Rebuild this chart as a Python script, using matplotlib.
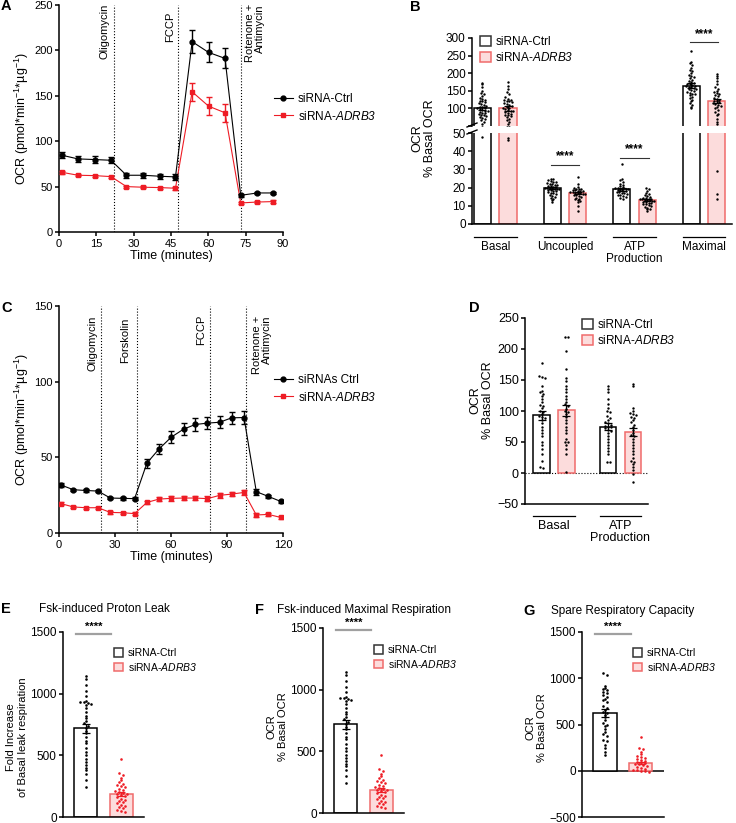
import numpy as np
import matplotlib
matplotlib.use('Agg')
import matplotlib.pyplot as plt
from matplotlib.patches import Patch
from matplotlib.lines import Line2D

plt.rcParams['font.family'] = ['Liberation Sans', 'DejaVu Sans']
plt.rcParams['mathtext.fontset'] = 'custom'
plt.rcParams['mathtext.sf'] = 'Liberation Sans:italic'
plt.rcParams['mathtext.it'] = 'Liberation Sans:italic'
plt.rcParams['mathtext.rm'] = 'Liberation Sans'
plt.rcParams['font.size'] = 8
plt.rcParams['axes.linewidth'] = 1.1
plt.rcParams['xtick.major.width'] = 1.1
plt.rcParams['ytick.major.width'] = 1.1
plt.rcParams['xtick.major.size'] = 3
plt.rcParams['ytick.major.size'] = 3
plt.rcParams['xtick.major.pad'] = 2
plt.rcParams['ytick.major.pad'] = 1.5

RED = '#ee1c25'
PINK = '#fcdcdc'
PINK_EDGE = '#f06b6b'
CTRL = 'siRNA-Ctrl'
ADRB3 = 'siRNA-$\\mathsf{ADRB3}$'

# ---- panel A: OCR time course ----
tA = [1.1, 7.6, 14.3, 20.9, 27.1, 33.8, 40.5, 46.8, 53.5, 60.1, 66.7, 73.0, 79.7, 86.0]
ctrlA = [84.6, 80.5, 79.8, 79.0, 62.5, 62.5, 61.4, 60.7, 209.6, 197.8, 191.2, 40.4, 43.0, 43.0]
ctrlA_err = [3.5, 3.5, 3.5, 3.5, 2.5, 2.5, 2.5, 3, 13, 11, 11, 1.5, 1.5, 1.5]
adrA = [65.8, 62.5, 62.1, 61.0, 50.0, 49.3, 48.9, 48.2, 154.4, 138.6, 131.3, 32.0, 33.0, 33.5]
adrA_err = [1.5, 1.2, 1.2, 1.2, 1.2, 1.2, 1.2, 1.5, 10, 10, 10, 1.5, 1.2, 1.2]
injA = [22.1, 47.9, 73.0]

# ---- panel C: OCR time course with forskolin ----
tC = [1.1, 7.7, 14.3, 20.9, 27.5, 34.1, 40.5, 47.1, 53.5, 60.1, 66.7, 73.0, 79.5,
      86.1, 92.5, 99.1, 105.7, 112.1, 118.7]
ctrlC = [31.7, 28.6, 28.1, 27.7, 23.1, 22.9, 22.7, 46.2, 55.4, 63.3, 68.6, 71.7, 72.6,
         73.2, 76.1, 76.3, 27.3, 24.2, 20.9]
ctrlC_err = [1.2, 0.8, 0.8, 0.8, 0.8, 0.8, 0.8, 3, 3.5, 4, 4, 4, 4, 4, 4, 4, 2, 1, 1]
adrC = [19.4, 17.2, 16.7, 16.7, 13.6, 13.4, 12.8, 20.2, 22.4, 22.9, 23.1, 23.1, 22.7,
        24.9, 25.7, 26.8, 11.9, 12.3, 10.3]
adrC_err = [1, 0.8, 0.8, 0.8, 0.8, 0.8, 0.8, 1.2, 1.5, 1.5, 1.5, 1.5, 1.5, 1.5, 1.5, 1.5, 1, 1, 1]
injC = [22.3, 41.9, 80.7, 100.4]

# ---- panel B: respiration parameters (% basal) ----
groupsB = ['Basal', 'Uncoupled', 'ATP\nProduction', 'Maximal']
ctrlB = [100, 20, 19, 165]
adrB = [100, 17, 13, 120]
ctrlB_err = [5, 0.5, 0.6, 6]
adrB_err = [6, 0.5, 0.5, 6]
ptsB_ctrl = [
    [172, 168, 160, 150, 145, 140, 135, 130, 128, 125, 122, 120, 118, 115, 112, 110, 108, 105,
     103, 101, 100, 98, 96, 94, 92, 90, 88, 86, 84, 82, 80, 78, 75, 72, 70, 66, 62, 55, 48],
    [25, 24.5, 24, 23.5, 23, 23, 22.5, 22, 22, 21.5, 21.5, 21, 21, 20.5, 20.5, 20, 20, 20, 19.5,
     19.5, 19, 19, 18.5, 18.5, 18, 18, 17.5, 17, 17, 16.5, 16, 15.5, 15, 14.5, 14, 13, 12],
    [33, 25, 24, 23, 22, 21.5, 21, 20.5, 20, 20, 19.5, 19.5, 19, 19, 18.5, 18.5, 18, 18, 17.5,
     17.5, 17, 17, 16.5, 16, 16, 15.5, 15, 14.5, 14],
    [262, 232, 228, 222, 215, 210, 205, 200, 196, 192, 188, 185, 182, 178, 175, 172, 170, 168,
     166, 165, 163, 161, 160, 158, 156, 154, 152, 150, 148, 145, 142, 140, 137, 133, 130, 125,
     120, 115, 110, 105, 100],
]
ptsB_adr = [
    [175, 165, 155, 148, 140, 132, 128, 125, 123, 122, 120, 118, 115, 112, 110, 108, 105, 102,
     100, 98, 96, 94, 92, 90, 88, 85, 82, 80, 78, 75, 70, 66, 60, 55, 47, 46],
    [26, 22, 20.5, 20, 19.5, 19, 19, 18.5, 18.5, 18, 18, 18, 17.5, 17.5, 17, 17, 17, 16.5, 16.5,
     16, 16, 15.5, 15, 14.5, 14, 13.5, 13, 12.5, 12, 10, 7],
    [20, 19, 18, 17, 16.5, 16, 15.5, 15, 14.5, 14.5, 14, 14, 13.5, 13.5, 13, 13, 13, 12.5, 12.5,
     12, 12, 11.5, 11.5, 11, 11, 10.5, 10, 9.5, 9, 8.5, 8, 7],
    [198, 192, 185, 178, 170, 162, 156, 150, 148, 145, 140, 137, 134, 130, 128, 125, 122, 120,
     118, 115, 112, 110, 108, 105, 100, 95, 90, 85, 80, 70, 60, 55, 29, 16.5, 14],
]

# ---- panel D ----
groupsD = ['Basal', 'ATP\nProduction']
ctrlD = [93, 75]
adrD = [101, 66]
ctrlD_err = [7, 5]
adrD_err = [9, 7]
ptsD_ctrl = [
    [177, 157, 155, 153, 140, 133, 130, 128, 125, 120, 115, 110, 108, 105, 100, 98, 95, 92, 90,
     88, 85, 80, 75, 70, 65, 60, 50, 45, 38, 30, 20, 10, 8],
    [140, 135, 130, 120, 112, 105, 100, 98, 92, 88, 85, 82, 80, 78, 76, 75, 74, 72, 70, 68, 65,
     60, 55, 50, 45, 40, 35, 30, 17, 17],
]
ptsD_adr = [
    [220, 220, 196, 168, 153, 148, 140, 135, 130, 125, 120, 115, 112, 108, 104, 100, 98, 95, 90,
     85, 80, 75, 70, 65, 55, 50, 50, 45, 38, 30, 2],
    [143, 140, 105, 100, 97, 95, 93, 90, 88, 85, 82, 78, 75, 70, 65, 62, 60, 55, 50, 45, 40, 35,
     30, 25, 20, 18, 15, 10, 5, -2, -14],
]

# ---- panels E/F (same values) and G ----
barsEF = [720, 185]
errEF = [35, 15]
ptsEF_ctrl = [1145, 1120, 1070, 1020, 980, 940, 935, 930, 925, 920, 910, 880, 850, 820, 800, 780,
              760, 740, 720, 700, 680, 650, 620, 600, 560, 530, 500, 470, 450, 420, 400, 380,
              350, 300, 240]
ptsEF_adr = [470, 360, 340, 320, 300, 280, 270, 260, 250, 240, 230, 220, 210, 200, 195, 190, 185,
             180, 170, 160, 150, 140, 130, 120, 110, 100, 90, 80, 70, 60, 50, 40]
barsG = [625, 80]
errG = [40, 12]
ptsG_ctrl = [1060, 1040, 920, 900, 880, 870, 850, 840, 820, 800, 780, 760, 740, 700, 680, 660,
             640, 620, 600, 580, 550, 520, 500, 480, 450, 420, 400, 380, 330, 320, 280, 250, 200, 170]
ptsG_adr = [360, 250, 230, 200, 180, 160, 150, 140, 130, 120, 110, 100, 90, 80, 75, 70, 60, 50,
            40, 30, 20, 10, 5, 0, -5, -10]

W, H = 736, 823
fig = plt.figure(figsize=(W / 100, H / 100), dpi=100)


def px_axes(l, t, r, b):
    return fig.add_axes([l / W, 1 - b / H, (r - l) / W, (b - t) / H])


def ftxt(x, y, s, **kw):
    fig.text(x / W, 1 - y / H, s, **kw)


def clean(ax):
    ax.spines['top'].set_visible(False)
    ax.spines['right'].set_visible(False)


def swarm(vals, dy, step=0.1, half=0.3):
    vals = np.asarray(vals, float)
    off = np.zeros(len(vals))
    keys = np.round(vals / dy)
    for k in np.unique(keys):
        idx = np.where(keys == k)[0]
        n = len(idx)
        off[idx] = np.clip((np.arange(n) - (n - 1) / 2) * step, -half, half)
    return off


def dots(ax, pos, vals, dy, color='black', step=0.1, half=0.3, s=3):
    off = swarm(vals, dy, step, half)
    ax.scatter(pos + off, vals, s=s, color=color, lw=0, zorder=4)


def bars(ax, pos, h, err, w, ctrl=True, ecol=None):
    fc = 'white' if ctrl else PINK
    ec = 'black' if ctrl else PINK_EDGE
    ax.bar(pos, h, width=w, color=fc, edgecolor=ec, lw=1.1, zorder=2)
    ax.errorbar(pos, h, yerr=err, fmt='none', ecolor=ecol or 'black', elinewidth=0.9,
                capsize=3, capthick=0.9, zorder=5)


def square_legend(ax, x, y, fs=8.5):
    hs = [Patch(facecolor='white', edgecolor='#333333', lw=1.1, label=CTRL),
          Patch(facecolor=PINK, edgecolor=PINK_EDGE, lw=1.1, label=ADRB3)]
    ax.legend(handles=hs, loc='upper left', bbox_to_anchor=(x / W, 1 - y / H),
              bbox_transform=fig.transFigure, frameon=False, fontsize=fs,
              handlelength=0.9, handleheight=0.9, handletextpad=0.4, labelspacing=0.25,
              borderpad=0, borderaxespad=0)


def line_legend(ax, x, y, first):
    hs = [Line2D([], [], color='black', marker='o', ms=3.5, lw=0.8, label=first),
          Line2D([], [], color=RED, marker='s', ms=3.5, lw=0.8, label=ADRB3)]
    ax.legend(handles=hs, loc='center left', bbox_to_anchor=(x / W, 1 - y / H),
              bbox_transform=fig.transFigure, frameon=False, fontsize=8.5,
              handlelength=1.6, handletextpad=0.4, labelspacing=0.35,
              borderpad=0, borderaxespad=0)


def time_course(ax, t, c, ce, a, ae):
    ax.errorbar(t, c, yerr=ce, fmt='-o', color='black', ms=3.5, lw=0.8, capsize=2,
                elinewidth=1, capthick=1, zorder=4)
    ax.errorbar(t, a, yerr=ae, fmt='-s', color=RED, ms=3.5, lw=0.8, capsize=2,
                elinewidth=1, capthick=1, zorder=3)


# ===== A =====
axA = px_axes(59, 5, 283, 232)
clean(axA)
time_course(axA, tA, ctrlA, ctrlA_err, adrA, adrA_err)
axA.set_xlim(0, 90)
axA.set_ylim(0, 250)
axA.set_xticks(range(0, 91, 15))
axA.set_yticks(range(0, 251, 50))
for x in injA:
    axA.axvline(x, color='black', ls=':', lw=0.8, zorder=1)
axA.text(18.4, 252, 'Oligomycin', rotation=90, ha='center', va='top', fontsize=8)
axA.text(44.6, 243, 'FCCP', rotation=90, ha='center', va='top', fontsize=8)
axA.text(78.8, 251, 'Rotenone +\nAntimycin', rotation=90, ha='center', va='top',
         fontsize=8, multialignment='right', linespacing=1.05)
axA.set_xlabel('Time (minutes)', fontsize=9, labelpad=1)
axA.set_ylabel('OCR (pmol*min$^{-1}$*µg$^{-1}$)', fontsize=9, labelpad=2)
line_legend(axA, 274, 108, CTRL)

# ===== C =====
axC = px_axes(59, 306, 283, 533)
clean(axC)
time_course(axC, tC, ctrlC, ctrlC_err, adrC, adrC_err)
axC.set_xlim(0, 120)
axC.set_ylim(0, 150)
axC.set_xticks(range(0, 121, 30))
axC.set_yticks(range(0, 151, 50))
for x in injC:
    axC.axvline(x, color='black', ls=':', lw=0.8, zorder=1)
axC.text(18.2, 143.5, 'Oligomycin', rotation=90, ha='center', va='top', fontsize=8)
axC.text(35.6, 142.5, 'Forskolin', rotation=90, ha='center', va='top', fontsize=8)
axC.text(76.2, 144.5, 'FCCP', rotation=90, ha='center', va='top', fontsize=8)
axC.text(108.6, 143.5, 'Rotenone +\nAntimycin', rotation=90, ha='center', va='top',
         fontsize=8, multialignment='right', linespacing=1.05)
axC.set_xlabel('Time (minutes)', fontsize=9, labelpad=1)
axC.set_ylabel('OCR (pmol*min$^{-1}$*µg$^{-1}$)', fontsize=9, labelpad=2)
line_legend(axC, 274, 389, 'siRNAs Ctrl')

# ===== B (broken axis) =====
posB = np.array([0, 2.73, 5.46, 8.18])
wB = 0.67
axBh = px_axes(472, 38, 732, 126)
axBl = px_axes(472, 133, 732, 224)
for ax in (axBh, axBl):
    clean(ax)
    ax.set_xlim(-0.41, 9.78)
    ax.set_xticks([])
    bars(ax, posB, ctrlB, ctrlB_err, wB, True)
    bars(ax, posB + 1, adrB, adrB_err, wB, False)
axBh.spines['bottom'].set_visible(False)
axBh.set_ylim(50, 300)
axBh.set_yticks(range(50, 301, 50))
axBh.set_yticklabels([''] + [str(v) for v in range(100, 301, 50)])
axBl.set_ylim(0, 50)
axBl.set_yticks(range(0, 51, 10))
for ax in (axBh, axBl):
    ax.tick_params(axis='y', labelsize=8.5)
for i in range(4):
    for ax, dy in ((axBh, 8), (axBl, 1.3)):
        dots(ax, posB[i], ptsB_ctrl[i], dy, step=0.1, half=0.28, s=3)
        dots(ax, posB[i] + 1, ptsB_adr[i], dy, step=0.1, half=0.28, s=3)
for y in (124, 131):
    fig.add_artist(Line2D([467 / W, 477 / W], [1 - (y + 3) / H, 1 - (y - 1) / H],
                          color='black', lw=1))
# significance
for ax, i, y, yt in ((axBl, 1, 32.6, 34), (axBl, 2, 36.3, 37.7), (axBh, 3, 288, 293)):
    ax.plot([posB[i] - 0.05, posB[i] + 1.05], [y, y], color='#333333', lw=0.8, clip_on=False)
    ax.text(posB[i] + 0.5, yt, '****', ha='center', va='bottom', fontsize=8.5, fontweight='bold')
trB = matplotlib.transforms.blended_transform_factory(axBl.transData, fig.transFigure)
for i, g in enumerate(groupsB):
    axBl.plot([posB[i] - wB / 2, posB[i] + 1 + wB / 2], [1 - 237 / H] * 2, color='black',
              lw=0.9, transform=trB, clip_on=False)
    axBl.text(posB[i] + 0.5, 1 - 241 / H, g, transform=trB, ha='center', va='top',
              fontsize=8.5, linespacing=1.05)
ftxt(424, 138, 'OCR\n% Basal OCR', rotation=90, ha='center', va='center', fontsize=9,
     linespacing=1.1)
square_legend(axBh, 480, 36)

# ===== D =====
posD = np.array([0, 2.7])
wD = 0.67
axD = px_axes(525, 318, 648, 504)
clean(axD)
axD.set_xlim(-0.68, 4.32)
axD.set_ylim(-50, 250)
axD.set_yticks(range(-50, 251, 50))
axD.set_xticks([])
axD.tick_params(axis='y', labelsize=9)
axD.axhline(0, color='black', ls=':', lw=0.8, zorder=1)
bars(axD, posD, ctrlD, ctrlD_err, wD, True)
bars(axD, posD + 1, adrD, adrD_err, wD, False)
for i in range(2):
    dots(axD, posD[i], ptsD_ctrl[i], 5, step=0.12, half=0.3, s=3)
    dots(axD, posD[i] + 1, ptsD_adr[i], 5, step=0.12, half=0.3, s=3)
trD = matplotlib.transforms.blended_transform_factory(axD.transData, fig.transFigure)
for i, g in enumerate(groupsD):
    axD.plot([posD[i] - wD / 2, posD[i] + 1 + wD / 2], [1 - 516 / H] * 2, color='black',
             lw=0.9, transform=trD, clip_on=False)
    axD.text(posD[i] + 0.5, 1 - 520 / H, g, transform=trD, ha='center', va='top',
             fontsize=9, linespacing=1.05)
ftxt(482, 400, 'OCR\n% Basal OCR', rotation=90, ha='center', va='center', fontsize=9,
     linespacing=1.1)
square_legend(axD, 582, 319)


# ===== E, F, G =====
def small_panel(box, ylim, yticks, hvals, herr, pc, pa, dy, title, tpos, sig_y, star_y,
                legpos, ylab, ylabpos):
    ax = px_axes(*box)
    clean(ax)
    ax.set_xlim(-0.64, 1.65)
    ax.set_ylim(*ylim)
    ax.set_yticks(yticks)
    ax.set_xticks([])
    ax.tick_params(axis='y', labelsize=8.5)
    bars(ax, np.array([0]), hvals[:1], herr[:1], 0.65, True)
    bars(ax, np.array([1]), hvals[1:], herr[1:], 0.65, False, ecol=RED)
    dots(ax, 0, pc, dy, step=0.11, half=0.28, s=3.5)
    dots(ax, 1, pa, dy, color=RED, step=0.11, half=0.28, s=3.5)
    ax.plot([-0.28, 0.72], [sig_y, sig_y], color='#a0a0a0', lw=1.6, clip_on=False)
    ax.text(0.22, star_y, '****', ha='center', va='bottom', fontsize=8, fontweight='bold')
    ftxt(tpos[0], tpos[1], title, ha='left', va='center', fontsize=8.5)
    ftxt(ylabpos[0], ylabpos[1], ylab, rotation=90, ha='center', va='center', fontsize=8,
         linespacing=1.15)
    square_legend(ax, legpos[0], legpos[1], fs=7.5)
    return ax


small_panel((63, 632, 144, 817), (0, 1500), [0, 500, 1000, 1500], barsEF, errEF,
            ptsEF_ctrl, ptsEF_adr, 25, 'Fsk-induced Proton Leak', (39, 609), 1480, 1500,
            (114, 648), 'Fold Increase\nof Basal leak respiration', (17, 737))
small_panel((323, 628, 404, 813), (0, 1500), [0, 500, 1000, 1500], barsEF, errEF,
            ptsEF_ctrl, ptsEF_adr, 25, 'Fsk-induced Maximal Respiration', (277, 610), 1485,
            1505, (374, 645), 'OCR\n% Basal OCR', (277, 727))
axG = small_panel((582, 632, 664, 817), (-500, 1500), [-500, 0, 500, 1000, 1500], barsG, errG,
                  ptsG_ctrl, ptsG_adr, 30, 'Spare Respiratory Capacity', (551, 611), 1475,
                  1500, (633, 648), 'OCR\n% Basal OCR', (536, 728))
axG.axhline(0, color='black', lw=1.1, zorder=1)

# panel letters
for lab, x, y in (('A', 1, 6), ('B', 410, 7), ('C', 1, 308), ('D', 469, 308),
                  ('E', 1, 609), ('F', 255, 610), ('G', 523, 611)):
    ftxt(x, y, lab, ha='left', va='center', fontsize=10.5, fontweight='bold')

fig.savefig('out.png', dpi=100)
